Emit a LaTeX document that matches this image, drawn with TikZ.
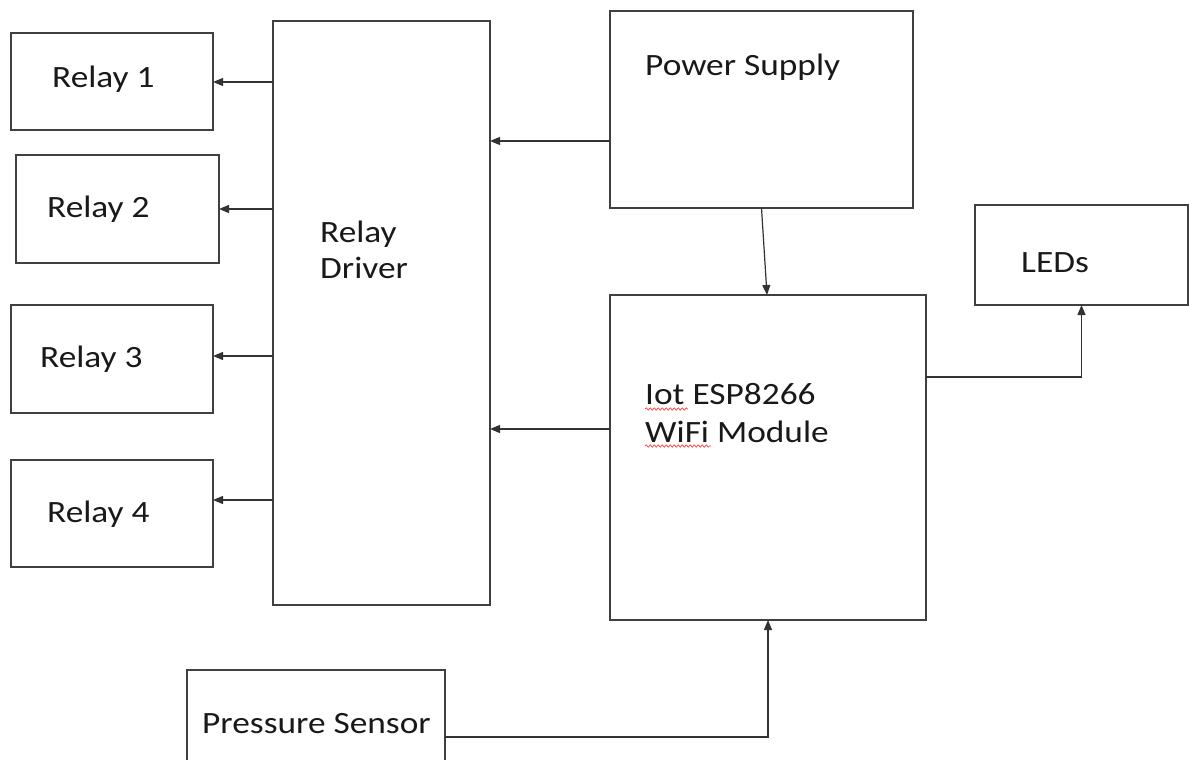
\documentclass[tikz,border=0pt]{standalone}
\usepackage{fontspec}
\setmainfont{Carlito}[FakeStretch=1.14]
\usetikzlibrary{arrows.meta,fit,decorations.pathmorphing}
\begin{document}
\begin{tikzpicture}[x=1pt,y=-1pt,
 box/.style={draw=black!75, line width=1.4pt, inner sep=0pt, outer sep=0pt, rectangle},
 lbl/.style={anchor=base west, inner sep=0pt, font=\fontsize{31}{37}\selectfont, text=black!90},
 arr/.style={draw=black!80, line width=1.2pt, -{Triangle[length=10pt,width=8pt]}},
 spell/.style={draw=red!75, line width=0.7pt, decorate, decoration={snake, amplitude=1.2pt, segment length=4pt}}]
\useasboundingbox (0,0) rectangle (1189,760);
% boxes
\node[box, fit={(11,33)(213,130)}] (r1) {};
\node[box, fit={(16,155)(219,263)}] (r2) {};
\node[box, fit={(11,305)(213,413)}] (r3) {};
\node[box, fit={(11,460)(213,567)}] (r4) {};
\node[box, fit={(273,21)(490,605)}] (rd) {};
\node[box, fit={(610,11)(913,208)}] (ps) {};
\node[box, fit={(975,205)(1188,305)}] (leds) {};
\node[box, fit={(610,295)(926,620)}] (esp) {};
\node[box, fit={(187,670)(445,775)}] (sens) {};
% labels
\node[lbl] (t1) at (52,88) {Relay 1};
\node[lbl] (t2) at (47,217) {Relay 2};
\node[lbl] (t3) at (40,367) {Relay 3};
\node[lbl] (t4) at (47,522) {Relay 4};
\node[lbl] (td1) at (320,242) {Relay};
\node[lbl] (td2) at (320,278) {Driver};
\node[lbl] (tps) at (645,76) {Power Supply};
\node[lbl] (tled) at (1021,272) {LEDs};
\node[lbl] (te1) at (645,404) {Iot ESP8266};
\node[lbl] (te2) at (645,442) {WiFi Module};
\node[lbl] (tsens) at (202,733) {Pressure Sensor};
% spell-check marks
\draw[spell] ([yshift=-5pt]te1.base west) -- ++(43,0);
\draw[spell] ([yshift=-4pt]te2.base west) -- ++(66,0);
% connector heights
\coordinate (k1) at (0,82);
\coordinate (k2) at (0,209);
\coordinate (k3) at (0,356);
\coordinate (k4) at (0,500);
\coordinate (k5) at (0,141);
\coordinate (k6) at (0,429);
\coordinate (k7) at (0,377);
\coordinate (k8) at (0,737);
% connectors
\draw[arr] (rd.west |- k1) -- (r1.east |- k1);
\draw[arr] (rd.west |- k2) -- (r2.east |- k2);
\draw[arr] (rd.west |- k3) -- (r3.east |- k3);
\draw[arr] (rd.west |- k4) -- (r4.east |- k4);
\draw[arr] (ps.west |- k5) -- (rd.east |- k5);
\draw[arr] (ps.south) -- ([xshift=-1pt]esp.north);
\draw[arr] (esp.west |- k6) -- (rd.east |- k6);
\draw[arr] (esp.east |- k7) -| (leds.south);
\draw[arr] (sens.east |- k8) -| (esp.south);
\end{tikzpicture}
\end{document}
